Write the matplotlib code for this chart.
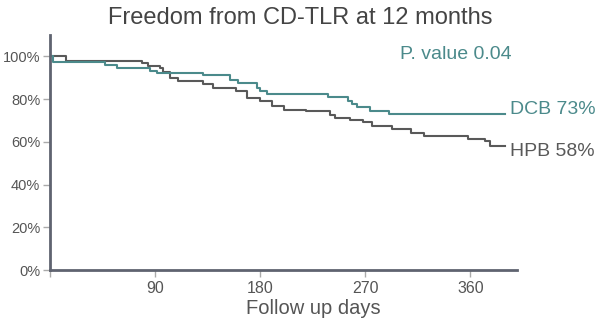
import matplotlib
matplotlib.use("Agg")
import matplotlib.pyplot as plt

plt.rcParams['font.family'] = ['Liberation Sans', 'DejaVu Sans']

# Kaplan-Meier style steps: day of drop and survival (%) after it
hpb_days = [0, 14, 79, 84, 94, 97, 103, 110, 131, 140, 159, 169, 180, 190, 200,
            219, 240, 244, 257, 268, 276, 293, 309, 320, 358, 373, 377, 390]
hpb_pct = [100, 97.8, 97.0, 95.4, 94.8, 92.5, 90.1, 88.4, 87.2, 85.3, 83.7, 80.6,
           79.0, 77.0, 75.1, 74.3, 72.8, 71.2, 70.4, 69.2, 67.6, 66.1, 64.2, 62.9,
           61.4, 60.3, 58.2, 58.2]

dcb_days = [0, 3, 47, 57, 86, 92, 131, 154, 161, 177, 180, 186, 238, 255, 259,
            263, 274, 290, 390]
dcb_pct = [100, 97.3, 95.8, 94.7, 93.0, 92.3, 91.1, 88.9, 87.7, 85.3, 83.7, 82.2,
           81.1, 79.0, 77.5, 76.1, 74.3, 73.2, 73.2]

x_ticks = [0, 90, 180, 270, 360]
x_labels = ['', '90', '180', '270', '360']
y_ticks = [0, 20, 40, 60, 80, 100]
y_labels = ['0%', '20%', '40%', '60%', '80%', '100%']

teal = '#4b8a8b'
grey = '#595959'
axis_col = '#5f6370'
text_col = '#555555'

fig = plt.figure(figsize=(6, 3.3), dpi=100)
ax = fig.add_axes([0.0833, 0.1818, 0.7784, 0.712])

ax.step(hpb_days, hpb_pct, where='post', color=grey, lw=1.5)
ax.step(dcb_days, dcb_pct, where='post', color=teal, lw=1.5)

ax.set_xlim(0, 400)
ax.set_ylim(0, 110)
ax.set_xticks(x_ticks)
ax.set_xticklabels(x_labels)
ax.set_yticks(y_ticks)
ax.set_yticklabels(y_labels)

for s in ['top', 'right']:
    ax.spines[s].set_visible(False)
for s in ['left', 'bottom']:
    ax.spines[s].set_color(axis_col)
    ax.spines[s].set_linewidth(2)
ax.tick_params(axis='both', colors='#aaaaaa', labelcolor=text_col,
               length=5, width=1)
ax.tick_params(axis='x', labelsize=11.5, pad=3)
ax.tick_params(axis='y', labelsize=10.5, pad=2)

fig.text(0.523, 0.064, 'Follow up days', ha='center', va='center',
         fontsize=14.5, color=text_col)
fig.text(0.5, 0.945, 'Freedom from CD-TLR at 12 months', ha='center',
         va='center', fontsize=17, color='#444444')

ax.text(dcb_days[-1] + 4, dcb_pct[-1] + 1.9, 'DCB 73%', color=teal,
        fontsize=14, va='center', ha='left', clip_on=False)
ax.text(hpb_days[-1] + 4, hpb_pct[-1] - 2.7, 'HPB 58%', color=grey,
        fontsize=14, va='center', ha='left', clip_on=False)
ax.text(0.989, 0.917, 'P. value 0.04', color=teal, fontsize=14,
        transform=ax.transAxes, ha='right', va='center')

fig.savefig('out.png', dpi=100)
